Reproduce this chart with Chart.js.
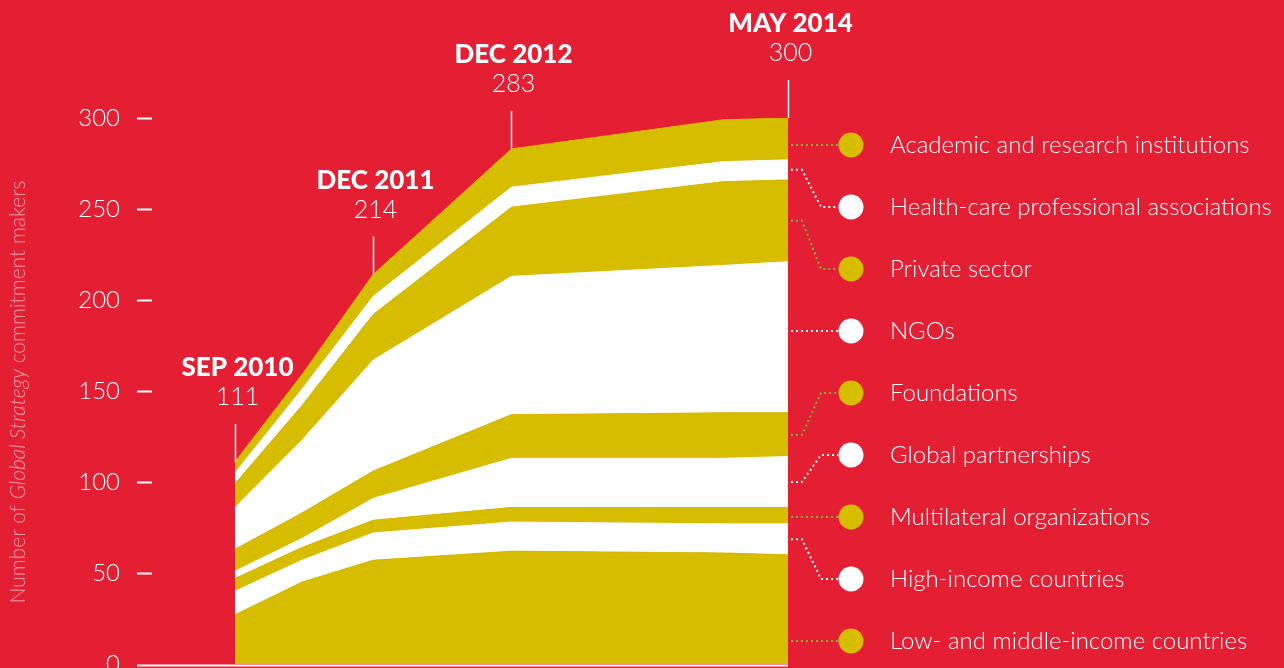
<!DOCTYPE html>
<html>
<head>
<meta charset="utf-8">
<script src="https://cdn.jsdelivr.net/npm/chart.js@4.4.1/dist/chart.umd.min.js"></script>
<style>
html, body { margin: 0; padding: 0; background: #e41f34; }
#wrap { width: 1284px; height: 668px; position: relative; }
</style>
</head>
<body>
<div id="wrap"><canvas id="chart1" width="1284" height="668"></canvas></div>
<script>
'use strict';
// stage positions along the horizontal axis (the source is not spaced by calendar time)
var stages = [0, 0.97, 2, 4, 7.06, 8];
var stageLabels = ['SEP 2010', '', 'DEC 2011', 'DEC 2012', '', 'MAY 2014'];

// commitment makers per constituency, bottom layer first
var lowMiddleIncome = [27, 45, 57, 62, 61, 60];
var highIncome = [13, 12, 15, 16, 16, 17];
var multilateral = [7, 7, 7, 8, 9, 9];
var globalPartnerships = [4, 5, 12, 27, 27, 28];
var foundations = [12, 14, 15, 24, 25, 24];
var ngos = [23, 40, 61, 76, 81, 83];
var privateSector = [13, 19, 25, 38, 46, 45];
var healthCare = [6, 9, 10, 11, 11, 11];
var academic = [6, 8, 12, 21, 23, 23];

var yTicks = [0, 50, 100, 150, 200, 250, 300];

var GOLD = '#d6bd00';
var WHITE = '#ffffff';
var DOT_GREEN = '#7fb13c';
var FONT = 'Lato';

var series = [
	{ label: 'Low- and middle-income countries', data: lowMiddleIncome, color: GOLD },
	{ label: 'High-income countries', data: highIncome, color: WHITE },
	{ label: 'Multilateral organizations', data: multilateral, color: GOLD },
	{ label: 'Global partnerships', data: globalPartnerships, color: WHITE },
	{ label: 'Foundations', data: foundations, color: GOLD },
	{ label: 'NGOs', data: ngos, color: WHITE },
	{ label: 'Private sector', data: privateSector, color: GOLD },
	{ label: 'Health-care professional associations', data: healthCare, color: WHITE },
	{ label: 'Academic and research institutions', data: academic, color: GOLD }
];

var datasets = series.map(function (s, i) {
	return {
		label: s.label,
		data: s.data.map(function (v, j) { return { x: stages[j], y: v }; }),
		backgroundColor: s.color,
		borderColor: s.color,
		borderWidth: 1,
		pointRadius: 0,
		tension: 0,
		fill: i === 0 ? 'origin' : '-1'
	};
});

var overlay = {
	id: 'overlay',
	afterDraw: function (chart) {
		var ctx = chart.ctx;
		var xs = chart.scales.x;
		var ys = chart.scales.y;
		var last = stages.length - 1;
		var rightX = xs.getPixelForValue(stages[last]);
		ctx.save();

		// baseline
		ctx.strokeStyle = WHITE;
		ctx.lineWidth = 2;
		ctx.beginPath();
		ctx.moveTo(ys.right - 15, ys.getPixelForValue(0) + 1.5);
		ctx.lineTo(rightX, ys.getPixelForValue(0) + 1.5);
		ctx.stroke();

		// date labels with totals
		ctx.textAlign = 'center';
		ctx.textBaseline = 'middle';
		ctx.fillStyle = WHITE;
		stageLabels.forEach(function (lab, i) {
			if (!lab) return;
			var total = 0;
			series.forEach(function (s) { total += s.data[i]; });
			var px = Math.round(xs.getPixelForValue(stages[i])) + 0.5;
			var top = ys.getPixelForValue(total);
			ctx.lineWidth = 1.5;
			ctx.beginPath();
			ctx.moveTo(px, top - 38);
			ctx.lineTo(px, top);
			ctx.stroke();
			ctx.font = '300 25px ' + FONT;
			ctx.fillText(String(total), px + 2, top - 65);
			ctx.font = '900 26px ' + FONT;
			ctx.fillText(lab, px + 2, top - 94);
		});

		// legend with dotted leaders
		var cum = [];
		var acc = 0;
		series.forEach(function (s) { cum.push([acc, acc + s.data[last]]); acc += s.data[last]; });
		ctx.textAlign = 'left';
		for (var k = 0; k < series.length; k++) {
			var idx = series.length - 1 - k;
			var s = series[idx];
			var cy = 145 + k * 62;
			var yTop = ys.getPixelForValue(cum[idx][1]);
			var yBot = ys.getPixelForValue(cum[idx][0]);
			ctx.strokeStyle = s.color === GOLD ? DOT_GREEN : WHITE;
			ctx.lineWidth = 2;
			ctx.setLineDash([2, 3]);
			ctx.beginPath();
			if (cy > yTop + 3 && cy < yBot - 3) {
				ctx.moveTo(rightX + 3, cy);
			} else {
				var mid = (yTop + yBot) / 2;
				ctx.moveTo(rightX + 3, mid);
				ctx.lineTo(rightX + 14, mid);
				ctx.lineTo(rightX + 33, cy);
			}
			ctx.lineTo(rightX + 50, cy);
			ctx.stroke();
			ctx.setLineDash([]);
			ctx.fillStyle = s.color;
			ctx.beginPath();
			ctx.arc(rightX + 63, cy, 12.5, 0, Math.PI * 2);
			ctx.fill();
			ctx.fillStyle = WHITE;
			ctx.font = '300 24px ' + FONT;
			ctx.fillText(s.label, rightX + 102, cy);
		}

		// axis title, rotated, with the italic programme name
		var parts = [
			['Number of ', '300 21px ' + FONT],
			['Global Strategy', 'italic 300 21px ' + FONT],
			[' commitment makers', '300 21px ' + FONT]
		];
		var w = 0;
		parts.forEach(function (p) { ctx.font = p[1]; w += ctx.measureText(p[0]).width; });
		ctx.translate(18, 392);
		ctx.rotate(-Math.PI / 2);
		ctx.fillStyle = 'rgba(255,255,255,0.55)';
		var x = -w / 2;
		parts.forEach(function (p) {
			ctx.font = p[1];
			ctx.fillText(p[0], x, 0);
			x += ctx.measureText(p[0]).width;
		});
		ctx.restore();
	}
};

var ctx = document.getElementById('chart1');
var myChart = new Chart(ctx, {
	type: 'line',
	data: { datasets: datasets },
	options: {
		responsive: false,
		animation: false,
		layout: { padding: { left: 0, right: 496, top: 118, bottom: 4 } },
		plugins: {
			legend: { display: false },
			tooltip: { enabled: false }
		},
		scales: {
			x: { type: 'linear', display: false, min: -1.2, max: 8 },
			y: {
				stacked: true,
				min: 0,
				max: 300,
				afterBuildTicks: function (axis) {
					axis.ticks = yTicks.map(function (v) { return { value: v }; });
				},
				afterFit: function (axis) {
					axis.width = 152;
					axis.paddingTop = 0;
					axis.paddingBottom = 0;
				},
				border: { display: false },
				grid: {
					drawOnChartArea: false,
					drawTicks: true,
					tickLength: 15,
					tickWidth: 2,
					tickColor: function (c) { return c.tick && c.tick.value === 0 ? 'rgba(0,0,0,0)' : WHITE; }
				},
				ticks: {
					color: WHITE,
					padding: 17,
					font: { family: FONT, size: 24, weight: '300' }
				}
			}
		}
	},
	plugins: [overlay]
});
</script>
</body>
</html>
